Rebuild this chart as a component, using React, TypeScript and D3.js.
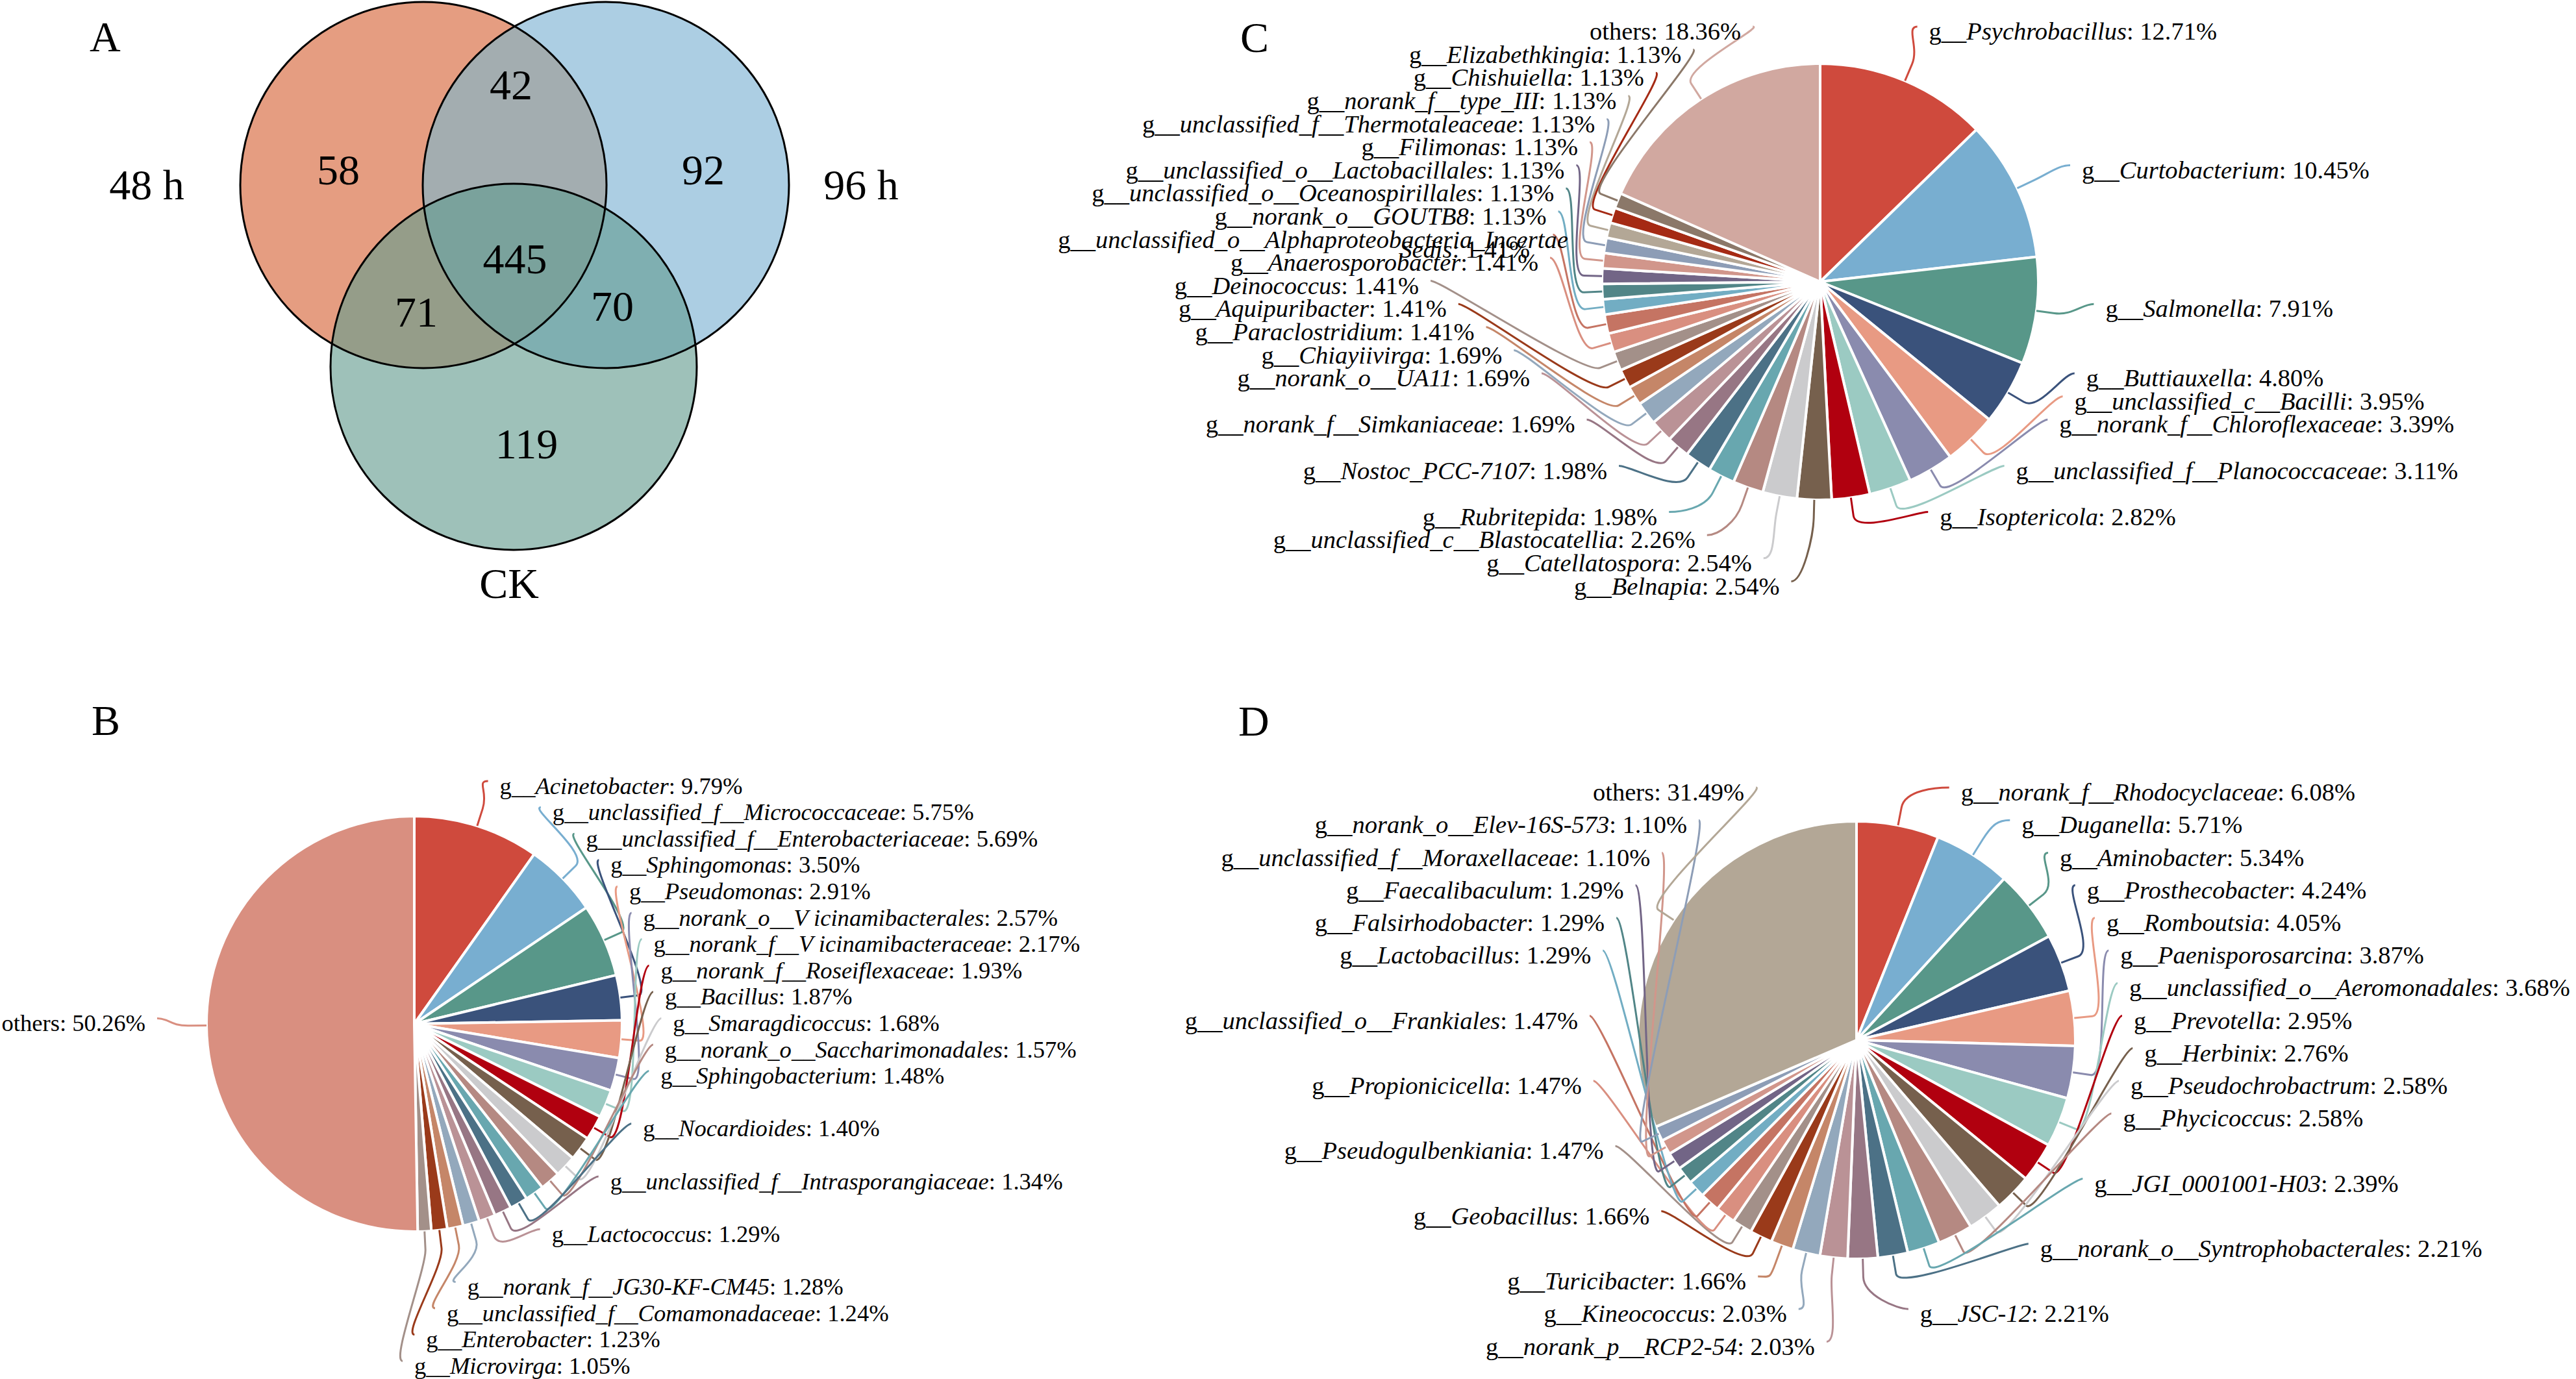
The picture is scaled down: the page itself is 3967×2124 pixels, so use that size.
import React from 'react';
import * as d3 from 'd3';

const W = 3967;
const H = 2124;
const FONT = "'Liberation Serif', 'Times New Roman', Times, serif";

// ---------------- Data ----------------
const vennSetNames = ['48 h', '96 h', 'CK'];
const vennRegionSets = [[0], [1], [2], [0, 1], [0, 2], [1, 2], [0, 1, 2]];
const vennRegionCounts = [58, 92, 119, 42, 71, 70, 445];

const genusB = [
  'Acinetobacter', 'unclassified_f__Micrococcaceae', 'unclassified_f__Enterobacteriaceae', 'Sphingomonas',
  'Pseudomonas', 'norank_o__V icinamibacterales', 'norank_f__V icinamibacteraceae', 'norank_f__Roseiflexaceae',
  'Bacillus', 'Smaragdicoccus', 'norank_o__Saccharimonadales', 'Sphingobacterium', 'Nocardioides',
  'unclassified_f__Intrasporangiaceae', 'Lactococcus', 'norank_f__JG30-KF-CM45', 'unclassified_f__Comamonadaceae',
  'Enterobacter', 'Microvirga', 'others',
];
const valueB = [9.79, 5.75, 5.69, 3.5, 2.91, 2.57, 2.17, 1.93, 1.87, 1.68, 1.57, 1.48, 1.4, 1.34, 1.29, 1.28, 1.24, 1.23, 1.05, 50.26];

const genusC = [
  'Psychrobacillus', 'Curtobacterium', 'Salmonella', 'Buttiauxella', 'unclassified_c__Bacilli',
  'norank_f__Chloroflexaceae', 'unclassified_f__Planococcaceae', 'Isoptericola', 'Belnapia', 'Catellatospora',
  'unclassified_c__Blastocatellia', 'Rubritepida', 'Nostoc_PCC-7107', 'norank_f__Simkaniaceae', 'norank_o__UA11',
  'Chiayiivirga', 'Paraclostridium', 'Aquipuribacter', 'Deinococcus', 'Anaerosporobacter',
  'unclassified_o__Alphaproteobacteria_Incertae_Sedis', 'norank_o__GOUTB8', 'unclassified_o__Oceanospirillales',
  'unclassified_o__Lactobacillales', 'Filimonas', 'unclassified_f__Thermotaleaceae', 'norank_f__type_III',
  'Chishuiella', 'Elizabethkingia', 'others',
];
const valueC = [12.71, 10.45, 7.91, 4.8, 3.95, 3.39, 3.11, 2.82, 2.54, 2.54, 2.26, 1.98, 1.98, 1.69, 1.69, 1.69, 1.41, 1.41, 1.41, 1.41, 1.41, 1.13, 1.13, 1.13, 1.13, 1.13, 1.13, 1.13, 1.13, 18.36];

const genusD = [
  'norank_f__Rhodocyclaceae', 'Duganella', 'Aminobacter', 'Prosthecobacter', 'Romboutsia', 'Paenisporosarcina',
  'unclassified_o__Aeromonadales', 'Prevotella', 'Herbinix', 'Pseudochrobactrum', 'Phycicoccus', 'JGI_0001001-H03',
  'norank_o__Syntrophobacterales', 'JSC-12', 'norank_p__RCP2-54', 'Kineococcus', 'Turicibacter', 'Geobacillus',
  'Pseudogulbenkiania', 'Propionicicella', 'unclassified_o__Frankiales', 'Lactobacillus', 'Falsirhodobacter',
  'Faecalibaculum', 'unclassified_f__Moraxellaceae', 'norank_o__Elev-16S-573', 'others',
];
const valueD = [6.08, 5.71, 5.34, 4.24, 4.05, 3.87, 3.68, 2.95, 2.76, 2.58, 2.58, 2.39, 2.21, 2.21, 2.03, 2.03, 1.66, 1.66, 1.47, 1.47, 1.47, 1.29, 1.29, 1.29, 1.1, 1.1, 31.49];

// ---------------- Styles / layout ----------------
const palette = [
  '#CF4A3D', '#78AED0', '#589789', '#3A527B', '#E89A83', '#8A8BAE', '#9BCAC2', '#B1000F', '#76604D', '#CBCBCD',
  '#B58982', '#68A7AF', '#4C7186', '#977684', '#BA9296', '#93A8BC', '#C58668', '#9A3A1A', '#A39089', '#D98F80',
  '#C57463', '#72ADC3', '#518587', '#726586', '#D1968B', '#8D9DB6', '#B3A796', '#A52A14', '#8B7869', '#D1A8A0',
];
const vennRegionColors = ['#E59D81', '#ACCEE3', '#9EC1B9', '#A3ADB0', '#959D89', '#7FAFB1', '#7AA29C'];
const vennCircles = [
  { cx: 652, cy: 285 },
  { cx: 933, cy: 285 },
  { cx: 791, cy: 565 },
];
const vennR = 282;
const vennRegionPos = [[521, 262], [1083, 262], [811, 684], [787, 131], [641, 481], [943, 472], [793, 399]];
const vennSetPos = [[226, 285], [1326, 285], [784, 899]];

// label slot indices (layout of the outside labels, one per slice)
const slotsB = [0, 1, 2, 3, 4, 5, 6, 7, 8, 9, 10, 11, 13, 15, 17, 19, 20, 21, 22, 9];
const slotsC = [0, 6, 12, 15, 16, 17, 19, 21, 24, 23, 22, 21, 19, 17, 15, 14, 13, 12, 11, 10, 9, 8, 7, 6, 5, 4, 3, 2, 1, 0];
const slotsD = [0, 1, 2, 3, 4, 5, 6, 7, 8, 9, 10, 12, 14, 16, 17, 16, 15, 13, 11, 9, 7, 5, 4, 3, 2, 1, 0];

type Side = { Rx: number; RyT: number; RyB: number; T0?: number; T1?: number };
type PieLayout = { cx: number; cy: number; r: number; slot0: number; step: number; fs: number; right: Side; left: Side };

const layoutB: PieLayout = {
  cx: 638, cy: 1577, r: 320, slot0: 1212, step: 40.6, fs: 36.6,
  right: { Rx: 388, RyT: 388, RyB: 388, T0: 96, T1: 0.78 },
  left: { Rx: 414, RyT: 420, RyB: 420 },
};
const layoutC: PieLayout = {
  cx: 2803, cy: 434, r: 336, slot0: 50, step: 35.6, fs: 38.5,
  right: { Rx: 442, RyT: 415, RyB: 400 },
  left: { Rx: 435, RyT: 400, RyB: 445, T0: 93, T1: 1.2 },
};
const layoutD: PieLayout = {
  cx: 2859, cy: 1602, r: 337, slot0: 1222, step: 50.2, fs: 38.5,
  right: { Rx: 428, RyT: 410, RyB: 430, T0: 92, T1: 0.86 },
  left: { Rx: 430, RyT: 415, RyB: 406, T0: 122, T1: 0.86 },
};

const BIG_FS = 66;

function labelOffset(dy: number, p: Side) {
  const Ry = dy < 0 ? p.RyT : p.RyB;
  const a = Math.abs(dy);
  const e = a < Ry ? p.Rx * Math.sqrt(1 - (a / Ry) * (a / Ry)) : 0;
  const t = dy > 0 && p.T0 !== undefined ? p.T0 - (p.T1 || 0) * (a - Ry) : -Infinity;
  return Math.max(e, t);
}

function PiePanel({ names, values, slots, layout }: { names: string[]; values: number[]; slots: number[]; layout: PieLayout }) {
  const pie = d3.pie<number>().sort(null).sortValues(null).value((d) => d).startAngle(0).endAngle(2 * Math.PI);
  const arcs = pie(values);
  const arcGen = d3.arc<d3.PieArcDatum<number>>().innerRadius(0).outerRadius(layout.r);
  const { cx, cy, r, fs } = layout;
  const o = 28;

  const items = arcs.map((a, i) => {
    const mid = (a.startAngle + a.endAngle) / 2;
    const dir = mid < Math.PI ? 1 : -1;
    const side = dir > 0 ? layout.right : layout.left;
    const yc = layout.slot0 + slots[i] * layout.step;
    const dy = yc - cy;
    const tx = cx + dir * labelOffset(dy, side);
    const ux = Math.sin(mid);
    const uy = -Math.cos(mid);
    const yl = yc - 9;
    const p = d3.path();
    p.moveTo(cx + r * ux, cy + r * uy);
    p.lineTo(cx + (r + o) * ux, cy + (r + o) * uy);
    p.bezierCurveTo(cx + (r + 2 * o) * ux, cy + (r + 2 * o) * uy, tx - dir * 36, yl, tx - dir * 18, yl);
    return { a, i, dir, yc, tx, path: p.toString(), color: palette[i % palette.length] };
  });

  return (
    <g>
      <g transform={`translate(${cx},${cy})`}>
        {items.map((it) => (
          <path key={it.i} d={arcGen(it.a) || ''} fill={it.color} stroke="#fff" strokeWidth={4} strokeLinejoin="round" />
        ))}
      </g>
      {items.map((it) => (
        <path key={'l' + it.i} d={it.path} fill="none" stroke={it.color} strokeWidth={3} />
      ))}
      {items.map((it) => {
        const name = names[it.i];
        const pct = values[it.i].toFixed(2) + '%';
        const anchor = it.dir > 0 ? 'start' : 'end';
        const base = it.yc + fs * 0.29;
        if (name === 'others') {
          return (
            <text key={'t' + it.i} x={it.tx} y={base} textAnchor={anchor} fontSize={fs} fontFamily={FONT} fill="#000">
              {`others: ${pct}`}
            </text>
          );
        }
        const full = `g__${name}: ${pct}`;
        if (full.length > 52) {
          const k = name.lastIndexOf('_');
          const part1 = name.slice(0, k);
          const part2 = name.slice(k + 1);
          return (
            <g key={'t' + it.i}>
              <text x={it.tx - it.dir * fs * 1.07} y={base} textAnchor={anchor} fontSize={fs} fontFamily={FONT} fill="#000">
                <tspan>g__</tspan>
                <tspan fontStyle="italic">{part1}</tspan>
              </text>
              <text x={it.tx + it.dir * fs * 0.45} y={base + fs * 0.4} textAnchor={anchor} fontSize={fs} fontFamily={FONT} fill="#000">
                <tspan fontStyle="italic">{part2}</tspan>
                <tspan>{`: ${pct}`}</tspan>
              </text>
            </g>
          );
        }
        return (
          <text key={'t' + it.i} x={it.tx} y={base} textAnchor={anchor} fontSize={fs} fontFamily={FONT} fill="#000">
            <tspan>g__</tspan>
            <tspan fontStyle="italic">{name}</tspan>
            <tspan>{`: ${pct}`}</tspan>
          </text>
        );
      })}
    </g>
  );
}

function Venn() {
  const maskColor = (sets: number[]) => vennRegionColors[vennRegionSets.findIndex((s) => s.join() === sets.join())];
  const [L, R, B] = vennCircles;
  return (
    <g>
      <defs>
        <clipPath id="vclip0">
          <circle cx={L.cx} cy={L.cy} r={vennR} />
        </clipPath>
        <clipPath id="vclip1">
          <circle cx={R.cx} cy={R.cy} r={vennR} />
        </clipPath>
      </defs>
      <circle cx={L.cx} cy={L.cy} r={vennR} fill={maskColor([0])} />
      <circle cx={R.cx} cy={R.cy} r={vennR} fill={maskColor([1])} />
      <circle cx={B.cx} cy={B.cy} r={vennR} fill={maskColor([2])} />
      <circle cx={R.cx} cy={R.cy} r={vennR} fill={maskColor([0, 1])} clipPath="url(#vclip0)" />
      <circle cx={B.cx} cy={B.cy} r={vennR} fill={maskColor([0, 2])} clipPath="url(#vclip0)" />
      <circle cx={B.cx} cy={B.cy} r={vennR} fill={maskColor([1, 2])} clipPath="url(#vclip1)" />
      <g clipPath="url(#vclip1)">
        <circle cx={B.cx} cy={B.cy} r={vennR} fill={maskColor([0, 1, 2])} clipPath="url(#vclip0)" />
      </g>
      {vennCircles.map((c, i) => (
        <circle key={i} cx={c.cx} cy={c.cy} r={vennR} fill="none" stroke="#000" strokeWidth={3} />
      ))}
      {vennRegionCounts.map((n, i) => (
        <text key={'n' + i} x={vennRegionPos[i][0]} y={vennRegionPos[i][1] + BIG_FS * 0.33} textAnchor="middle" fontSize={BIG_FS} fontFamily={FONT}>
          {n}
        </text>
      ))}
      {vennSetNames.map((s, i) => (
        <text key={'s' + i} x={vennSetPos[i][0]} y={vennSetPos[i][1] + BIG_FS * 0.33} textAnchor="middle" fontSize={BIG_FS} fontFamily={FONT}>
          {s}
        </text>
      ))}
    </g>
  );
}

export default function App() {
  if (typeof document !== 'undefined') document.body.style.margin = '0';
  return (
    <svg width={W} height={H} viewBox={`0 0 ${W} ${H}`} style={{ position: 'absolute', left: 0, top: 0, display: 'block' }}>
      <rect x={0} y={0} width={W} height={H} fill="#fff" />
      <Venn />
      <PiePanel names={genusB} values={valueB} slots={slotsB} layout={layoutB} />
      <PiePanel names={genusC} values={valueC} slots={slotsC} layout={layoutC} />
      <PiePanel names={genusD} values={valueD} slots={slotsD} layout={layoutD} />
      <text x={138} y={79} fontSize={BIG_FS} fontFamily={FONT}>A</text>
      <text x={141} y={1132} fontSize={BIG_FS} fontFamily={FONT}>B</text>
      <text x={1910} y={80} fontSize={BIG_FS} fontFamily={FONT}>C</text>
      <text x={1907} y={1133} fontSize={BIG_FS} fontFamily={FONT}>D</text>
    </svg>
  );
}
